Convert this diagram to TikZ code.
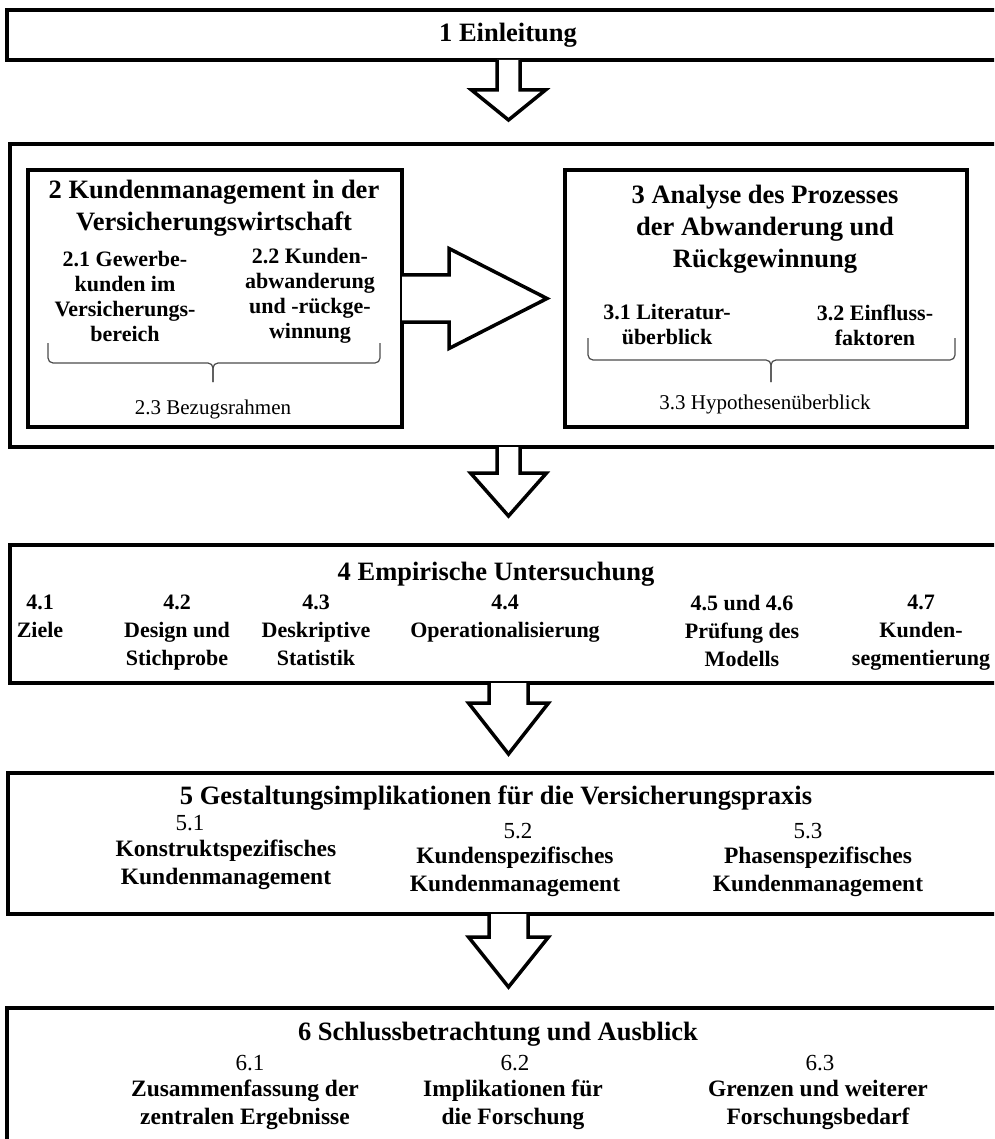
\documentclass[tikz,border=0pt]{standalone}
\usepackage{fontspec}
\setmainfont{Liberation Serif}
\usetikzlibrary{calc}
\begin{document}
\begin{tikzpicture}[x=1pt,y=-1pt,
  frame/.style={draw, line width=4pt, fill=white, inner sep=0pt},
  arr/.style={draw, fill=white, line width=3.5pt, line join=miter},
  brc/.style={draw, line width=1.2pt, black!70, rounded corners=5pt},
  ttl/.style={font=\fontsize{26.5}{32}\selectfont\bfseries, align=center, inner sep=0pt},
  sub/.style={font=\fontsize{22}{25}\selectfont\bfseries, align=center, inner sep=0pt},
  lbl/.style={font=\fontsize{21}{25}\selectfont, align=center, inner sep=0pt},
  itm/.style={font=\fontsize{22}{28}\selectfont\bfseries, align=center, inner sep=0pt},
  big/.style={font=\fontsize{23.5}{28}\selectfont\bfseries, align=center, inner sep=0pt},
  num/.style={font=\fontsize{23}{28}\selectfont, inner sep=0pt}]
\useasboundingbox (0,0) rectangle (994,1139);
\clip (0,0) rectangle (994,1139);

% block arrow pointing down from a box: node, stem half width, stem length, head half width, head length
\newcommand\blockdown[5]{%
  \draw[arr] ($(#1.south)+(-#2,-2)$) -- ($(#1.south)+(-#2,#3)$) -- ($(#1.south)+(-#4,#3)$)
    -- ($(#1.south)+(0,#3+#5)$) -- ($(#1.south)+(#4,#3)$) -- ($(#1.south)+(#2,#3)$)
    -- ($(#1.south)+(#2,-2)$);}

% chapter frames
\node[frame, minimum width=1003pt, minimum height=50pt] (b1) at (508.5,35) {};
\node[frame, minimum width=997pt, minimum height=303pt] (b2) at (508.5,295.5) {};
\node[frame, minimum width=374pt, minimum height=257pt] (c2) at (215,298.5) {};
\node[frame, minimum width=402pt, minimum height=257pt] (c3) at (766,298.5) {};
\node[frame, minimum width=997pt, minimum height=138pt] (b4) at (508.5,614) {};
\node[frame, minimum width=1001pt, minimum height=141pt] (b5) at (508.5,843.5) {};
\node[frame, minimum width=1003pt, minimum height=162pt] (b6) at (508.5,1089) {};

% arrows between the chapters
\blockdown{b1}{11.5}{28}{37}{30}
\blockdown{b2}{11.5}{24}{38}{43}
\blockdown{b4}{19.5}{18}{40}{51}
\blockdown{b5}{19.5}{21}{40}{50}

% arrow from chapter 2 to chapter 3
\draw[arr] ($(c2.east)+(-2,-23.5)$) -- ($(c2.east)+(45,-23.5)$) -- ($(c2.east)+(45,-50)$)
  -- ($(c2.east)+(143,0)$) -- ($(c2.east)+(45,50)$) -- ($(c2.east)+(45,23.5)$)
  -- ($(c2.east)+(-2,23.5)$);

% chapter 1
\node[ttl] (t1) at (508,35) {1 Einleitung};

% chapter 2
\node[ttl] (t2) at (214,208) {2 Kundenmanagement in der\\Versicherungswirtschaft};
\node[sub] (s21) at (125,296) {2.1 Gewerbe-\\kunden im\\Versicherungs-\\bereich};
\node[sub] (s22) at (310,296) {2.2 Kunden-\\abwanderung\\und -rückge-\\winnung};
\coordinate (l2) at (48,343);
\coordinate (r2) at (380,343);
\coordinate (m2) at (213,382);
\draw[brc] (l2) -- (l2 |- 0,363) -- (m2 |- 0,363) -- (m2);
\draw[brc] (r2) -- (r2 |- 0,363) -- (m2 |- 0,363) -- (m2);
\node[lbl] (s23) at (213,409) {2.3 Bezugsrahmen};

% chapter 3
\node[ttl] (t3) at (765,229) {3 Analyse des Prozesses\\der Abwanderung und\\Rückgewinnung};
\node[sub] (s31) at (667,325) {3.1 Literatur-\\überblick};
\node[sub] (s32) at (875,325) {3.2 Einfluss-\\faktoren};
\coordinate (l3) at (588,338);
\coordinate (r3) at (955,338);
\coordinate (m3) at (771,382);
\draw[brc] (l3) -- (l3 |- 0,360) -- (m3 |- 0,360) -- (m3);
\draw[brc] (r3) -- (r3 |- 0,360) -- (m3 |- 0,360) -- (m3);
\node[lbl] (s33) at (765,404) {3.3 Hypothesenüberblick};

% chapter 4
\node[ttl] (t4) at (496,574) {4 Empirische Untersuchung};
\node[itm, anchor=north] (s41) at (40,595) {4.1\\Ziele};
\node[itm, anchor=north] (s42) at (177,595) {4.2\\Design und\\Stichprobe};
\node[itm, anchor=north] (s43) at (316,595) {4.3\\Deskriptive\\Statistik};
\node[itm, anchor=north] (s44) at (505,595) {4.4\\Operationalisierung};
\node[itm, anchor=north] (s45) at (742,595) {4.5 und 4.6\\Prüfung des\\Modells};
\node[itm, anchor=north] (s47) at (921,595) {4.7\\Kunden-\\segmentierung};

% chapter 5
\node[ttl] (t5) at (496,798) {5 Gestaltungsimplikationen für die Versicherungspraxis};
\node[num] (n51) at (190,823) {5.1};
\node[big] (s51) at (226,865) {Konstruktspezifisches\\Kundenmanagement};
\node[num] (n52) at (518,831) {5.2};
\node[big] (s52) at (515,872) {Kundenspezifisches\\Kundenmanagement};
\node[num] (n53) at (808,831) {5.3};
\node[big] (s53) at (818,872) {Phasenspezifisches\\Kundenmanagement};

% chapter 6
\node[ttl] (t6) at (498,1034) {6 Schlussbetrachtung und Ausblick};
\node[num] (n61) at (250,1063) {6.1};
\node[big] (s61) at (245,1105) {Zusammenfassung der\\zentralen Ergebnisse};
\node[num] (n62) at (515,1063) {6.2};
\node[big] (s62) at (513,1105) {Implikationen für\\die Forschung};
\node[num] (n63) at (820,1063) {6.3};
\node[big] (s63) at (818,1105) {Grenzen und weiterer\\Forschungsbedarf};
\end{tikzpicture}
\end{document}
